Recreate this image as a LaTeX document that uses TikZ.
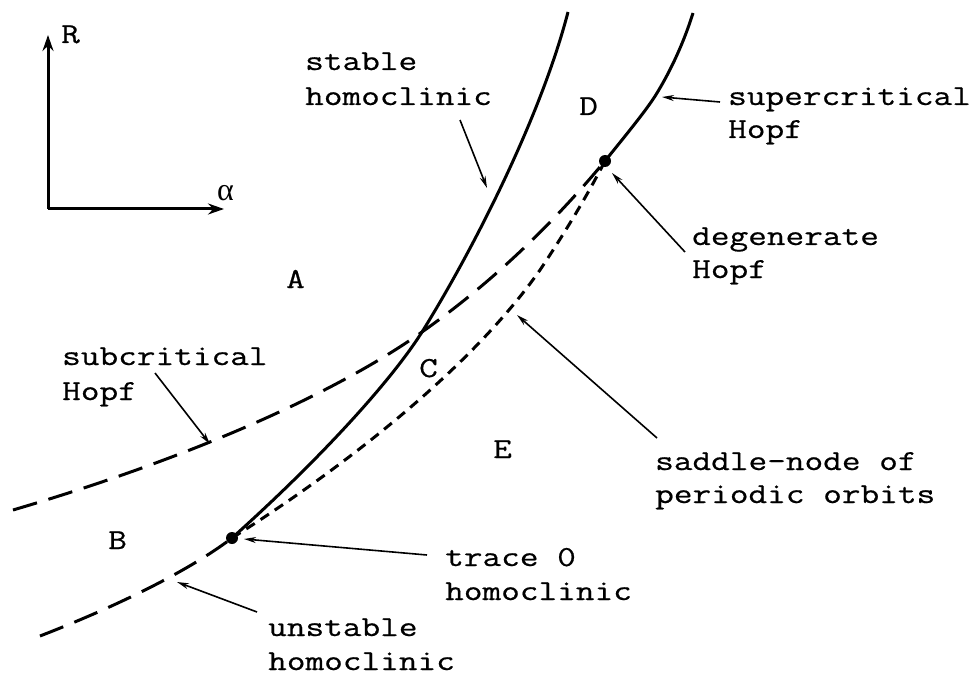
\documentclass[tikz,border=0pt]{standalone}
\usepackage{fontspec}
\newfontfamily\labfont[FakeStretch=1.25,FakeBold=0.6]{Latin Modern Mono}
\newfontfamily\greekfont{Liberation Serif}
\usetikzlibrary{arrows.meta}
\begin{document}
\begin{tikzpicture}[x=1pt,y=-1pt,
  lbl/.style={font=\labfont\fontsize{29}{34}\selectfont, inner sep=0pt, anchor=base west},
  curve/.style={line width=3pt, line cap=butt},
  longdash/.style={curve, dash pattern=on 25pt off 12pt},
  shortdash/.style={curve, dash pattern=on 10pt off 7pt},
  axis/.style={line width=3pt, -{Stealth[length=16pt,width=11pt]}},
  pointer/.style={line width=1.6pt, -{Stealth[length=12pt,width=6pt]}},
  dotpt/.style={circle, fill=black, inner sep=0pt, minimum size=12pt}]
\useasboundingbox (0,0) rectangle (980,679);
% axes
\coordinate (O) at (48,209);
\coordinate (Rtip) at (48,35);
\coordinate (Atip) at (224,209);
\draw[axis] (O) -- (Rtip);
\draw[axis] (O) -- (Atip);
\node[lbl] (Rlab) at (61,43) {R};
\node[lbl, font=\greekfont\fontsize{32}{34}\selectfont] (alab) at (217,201) {α};
% special points
\node[dotpt] (T0) at (232,538) {};
\node[dotpt] (DH) at (605,161) {};
% stable homoclinic (solid)
\draw[curve] (T0.center) .. controls (330,450) and (395,375) .. (422,332)
  .. controls (470,255) and (540,120) .. (568,12);
% supercritical Hopf (solid)
\draw[curve] (DH.center) .. controls (630,130) and (648,108) .. (657,93)
  .. controls (671,70) and (684,42) .. (693,13);
% subcritical Hopf (long dash)
\draw[longdash] (13,510) .. controls (200,455) and (340,390) .. (422,332)
  .. controls (500,277) and (560,215) .. (DH.center);
% unstable homoclinic (long dash)
\draw[longdash] (40,636) .. controls (120,605) and (190,570) .. (T0.center);
% saddle-node of periodic orbits (short dash)
\draw[shortdash] (T0.center) .. controls (340,470) and (470,370) .. (540,270)
  .. controls (570,225) and (590,190) .. (DH.center);
% region labels
\node[lbl] (A) at (286,288) {A};
\node[lbl] (B) at (108,549) {B};
\node[lbl] (C) at (419,377) {C};
\node[lbl] (D) at (579,115) {D};
\node[lbl] (E) at (493,458) {E};
% curve labels
\node[lbl] (st1) at (305,70) {stable};
\node[lbl] (st2) at (305,105) {homoclinic};
\node[lbl] (sp1) at (728,105) {supercritical};
\node[lbl] (sp2) at (728,138) {Hopf};
\node[lbl] (dg1) at (692,245) {degenerate};
\node[lbl] (dg2) at (692,278) {Hopf};
\node[lbl] (sb1) at (62,365) {subcritical};
\node[lbl] (sb2) at (62,400) {Hopf};
\node[lbl] (sn1) at (655,470) {saddle-node of};
\node[lbl] (sn2) at (655,503) {periodic orbits};
\node[lbl] (tr1) at (445,566) {trace 0};
\node[lbl] (tr2) at (445,600) {homoclinic};
\node[lbl] (us1) at (268,636) {unstable};
\node[lbl] (us2) at (268,670) {homoclinic};
% pointer coordinates
\coordinate (stT) at (460,120); \coordinate (stH) at (487,188);
\coordinate (spT) at (720,102); \coordinate (spH) at (662,97);
\coordinate (dgT) at (685,252); \coordinate (dgH) at (612,173);
\coordinate (sbT) at (155,373); \coordinate (sbH) at (210,444);
\coordinate (snT) at (657,438); \coordinate (snH) at (517,315);
\coordinate (trT) at (427,555); \coordinate (trH) at (244,539);
\coordinate (usT) at (257,612); \coordinate (usH) at (177,582);
\draw[pointer] (stT) -- (stH);
\draw[pointer] (spT) -- (spH);
\draw[pointer] (dgT) -- (dgH);
\draw[pointer] (sbT) -- (sbH);
\draw[pointer] (snT) -- (snH);
\draw[pointer] (trT) -- (trH);
\draw[pointer] (usT) -- (usH);
\end{tikzpicture}
\end{document}
